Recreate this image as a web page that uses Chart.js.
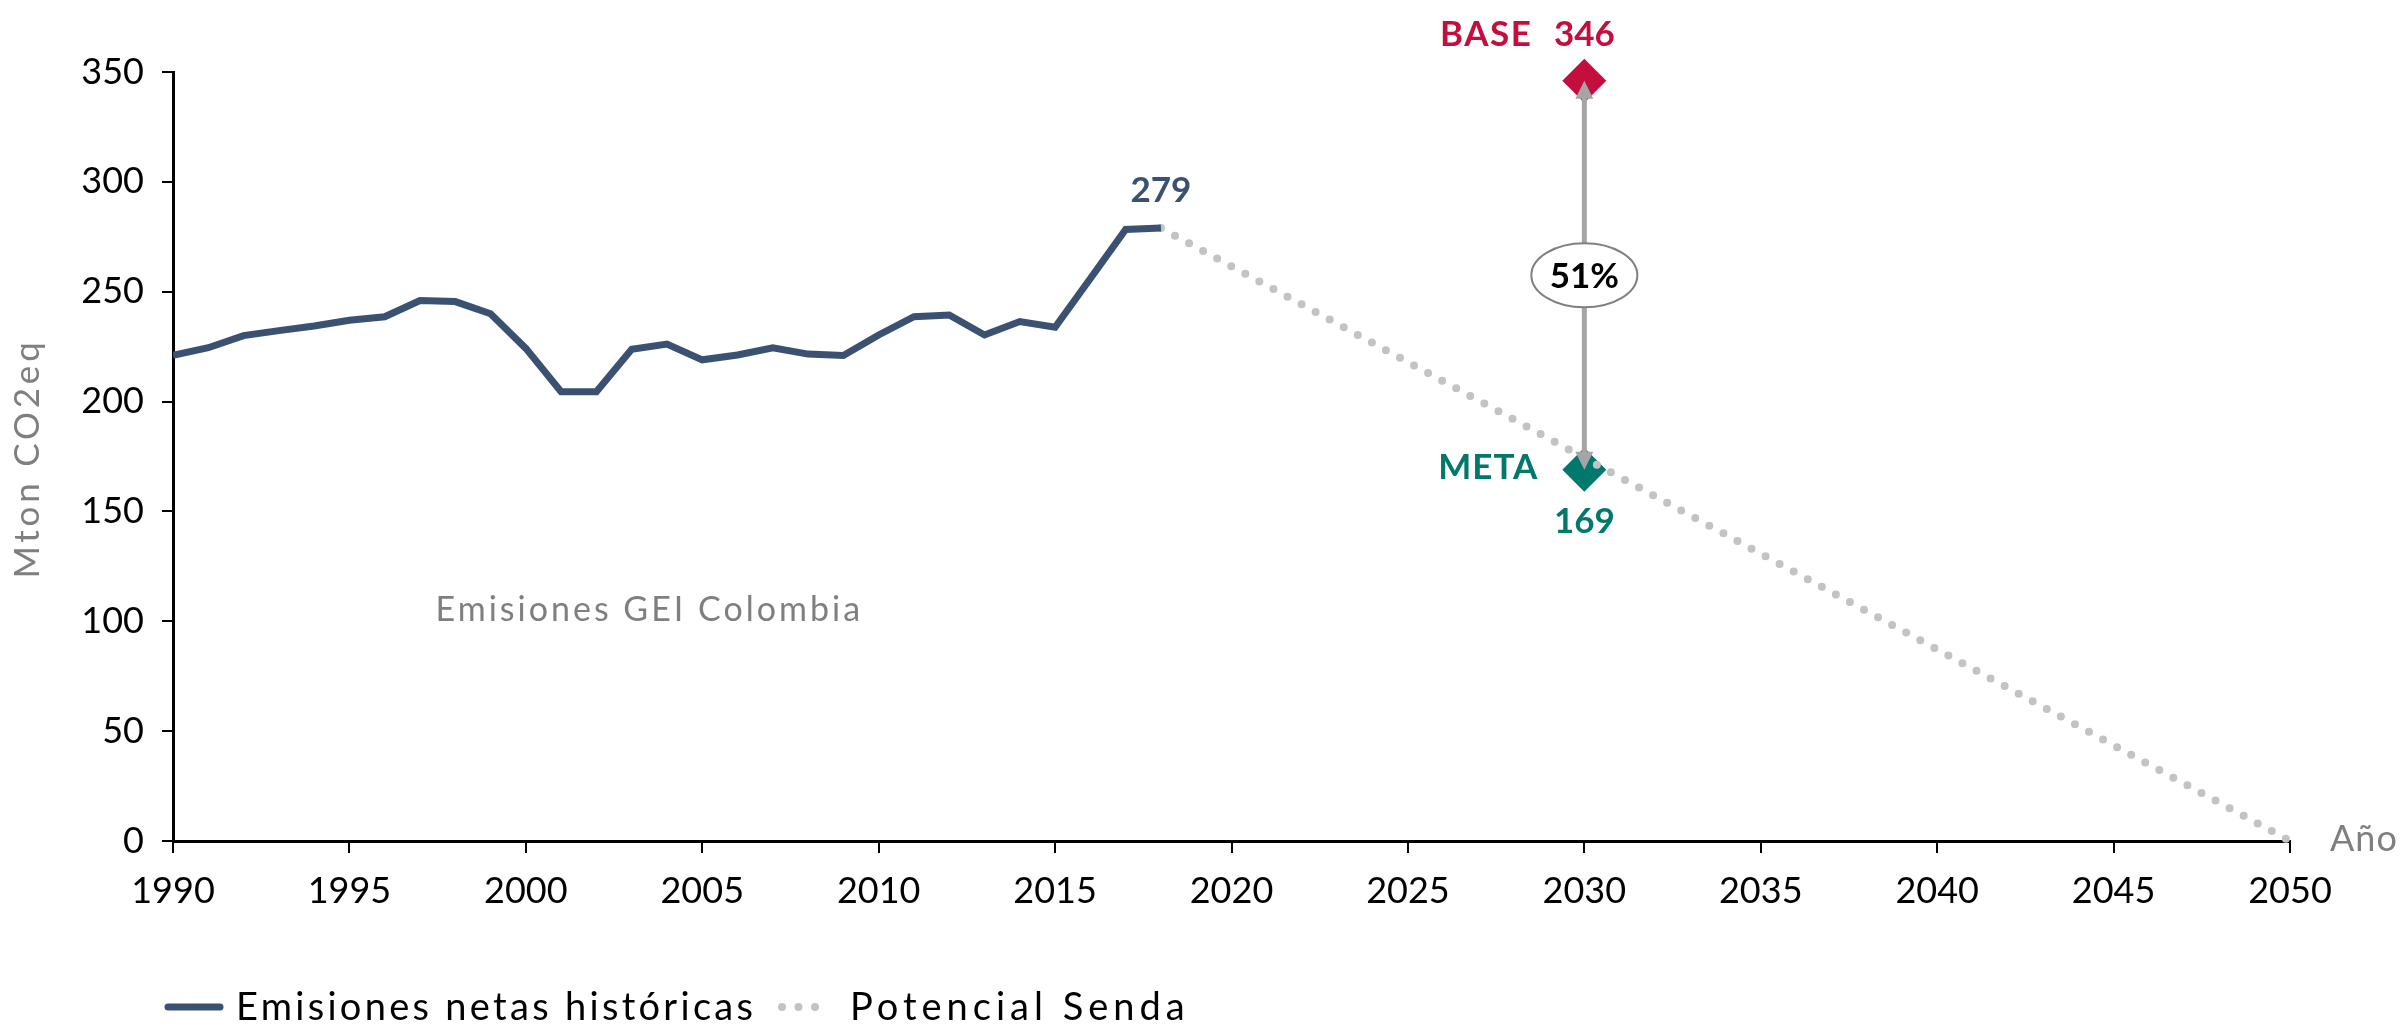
<!DOCTYPE html>
<html>
<head>
<meta charset="utf-8">
<script src="https://cdn.jsdelivr.net/npm/chart.js@4.4.0/dist/chart.umd.min.js"></script>
<style>
  html, body { margin: 0; padding: 0; background: #fff; }
</style>
</head>
<body>
<canvas id="linegraph" width="2407" height="1030"></canvas>
<script>
// historic net emissions (Mton CO2eq)
var years = [1990, 1991, 1992, 1993, 1994, 1995, 1996, 1997, 1998, 1999,
             2000, 2001, 2002, 2003, 2004, 2005, 2006, 2007, 2008, 2009,
             2010, 2011, 2012, 2013, 2014, 2015, 2016, 2017, 2018];
var emissions = [221, 224.5, 230, 232.3, 234.4, 237, 238.6, 246, 245.5, 240,
                 224.2, 204.5, 204.5, 223.8, 226.2, 219, 221.2, 224.5, 221.6, 221,
                 230.3, 238.6, 239.4, 230.3, 236.4, 233.8, 256, 278.3, 279];

// potential path to 2050
var pathYears = [2018, 2050];
var pathValues = [279, 0];

// 2030 target
var targetYear = 2030;
var baseValue = 346;
var metaValue = 169;
var reductionText = '51%';

var xTicks = [1990, 1995, 2000, 2005, 2010, 2015, 2020, 2025, 2030, 2035, 2040, 2045, 2050];
var yTicks = [0, 50, 100, 150, 200, 250, 300, 350];

var navy = '#3b5172';
var crimson = '#c40e3e';
var teal = '#00786c';
var dotGray = '#c3c3c3';
var textGray = '#7f7f7f';
var fontFamily = 'Lato, "Open Sans", sans-serif';

function pts(xs, ys) {
    return xs.map(function (x, i) { return { x: x, y: ys[i] }; });
}

// text with extra letter spacing (the original font is much wider than Lato)
function spaced(ctx, text, x, y, sp) {
    ctx.letterSpacing = sp + 'px';
    ctx.fillText(text, x, y);
    ctx.letterSpacing = '0px';
}

var extras = {
    id: 'extras',
    afterDatasetsDraw: function (chart) {
        var ctx = chart.ctx;
        var xs = chart.scales.x, ys = chart.scales.y;
        var px = xs.getPixelForValue(targetYear);
        var yTop = ys.getPixelForValue(baseValue);
        var yBot = ys.getPixelForValue(metaValue);
        var head = 18, hw = 9;

        ctx.save();
        // double arrow
        ctx.strokeStyle = '#a5a5a5';
        ctx.fillStyle = '#a5a5a5';
        ctx.lineWidth = 5;
        ctx.beginPath();
        ctx.moveTo(px, yTop + head - 2);
        ctx.lineTo(px, yBot - head + 2);
        ctx.stroke();
        ctx.beginPath();
        ctx.moveTo(px, yTop);
        ctx.lineTo(px - hw, yTop + head);
        ctx.lineTo(px + hw, yTop + head);
        ctx.closePath();
        ctx.fill();
        ctx.beginPath();
        ctx.moveTo(px, yBot);
        ctx.lineTo(px - hw, yBot - head);
        ctx.lineTo(px + hw, yBot - head);
        ctx.closePath();
        ctx.fill();

        // ellipse with percentage
        var cy = (yTop + yBot) / 2;
        ctx.beginPath();
        ctx.ellipse(px, cy, 53, 32, 0, 0, Math.PI * 2);
        ctx.fillStyle = '#fff';
        ctx.fill();
        ctx.lineWidth = 2;
        ctx.strokeStyle = '#808080';
        ctx.stroke();
        ctx.fillStyle = '#000';
        ctx.font = 'bold 35px ' + fontFamily;
        ctx.textAlign = 'center';
        ctx.textBaseline = 'middle';
        ctx.fillText(reductionText, px, cy + 1);

        // value labels
        ctx.font = 'bold 35px ' + fontFamily;
        ctx.fillStyle = crimson;
        ctx.fillText(String(baseValue), px, yTop - 46);
        ctx.textAlign = 'right';
        spaced(ctx, 'BASE', px - 52, yTop - 46, 1.5);

        ctx.fillStyle = teal;
        ctx.textAlign = 'center';
        ctx.fillText(String(metaValue), px, yBot + 52);
        ctx.textAlign = 'right';
        spaced(ctx, 'META', px - 46, yBot - 2, 1);

        var lastX = years[years.length - 1], lastY = emissions[emissions.length - 1];
        ctx.fillStyle = navy;
        ctx.textAlign = 'center';
        ctx.fillText('279', xs.getPixelForValue(lastX), ys.getPixelForValue(lastY) - 37);

        // chart inner texts
        ctx.font = '34px ' + fontFamily;
        ctx.fillStyle = textGray;
        ctx.textAlign = 'center';
        spaced(ctx, 'Emisiones GEI Colombia', xs.getPixelForValue(2003.5), ys.getPixelForValue(105), 3);
        ctx.textAlign = 'left';
        ctx.font = '36px ' + fontFamily;
        spaced(ctx, 'Año', chart.chartArea.right + 40, ys.getPixelForValue(0) - 2, 1);

        // y axis title
        ctx.translate(28, ys.getPixelForValue(175) + 2);
        ctx.rotate(-Math.PI / 2);
        ctx.textAlign = 'center';
        ctx.font = '35px ' + fontFamily;
        spaced(ctx, 'Mton CO2eq', 0, 0, 3.8);
        ctx.restore();

        // legend
        ctx.save();
        var ly = 1007;
        ctx.lineCap = 'round';
        ctx.strokeStyle = navy;
        ctx.lineWidth = 7;
        ctx.beginPath();
        ctx.moveTo(168, ly);
        ctx.lineTo(220, ly);
        ctx.stroke();
        ctx.font = '38px ' + fontFamily;
        ctx.fillStyle = '#000';
        ctx.textAlign = 'left';
        ctx.textBaseline = 'middle';
        spaced(ctx, 'Emisiones netas históricas', 236, ly + 1, 3.3);
        ctx.strokeStyle = dotGray;
        ctx.lineWidth = 8;
        ctx.setLineDash([0, 16.5]);
        ctx.beginPath();
        ctx.moveTo(782, ly);
        ctx.lineTo(816, ly);
        ctx.stroke();
        spaced(ctx, 'Potencial Senda', 850, ly + 1, 5);
        ctx.restore();
    }
};

var ctx = document.getElementById('linegraph').getContext('2d');
var emissionsChart = new Chart(ctx, {
    type: 'line',
    data: {
        datasets: [{
            label: 'Emisiones netas históricas',
            data: pts(years, emissions),
            borderColor: navy,
            borderWidth: 7,
            pointRadius: 0,
            fill: false
        }, {
            label: 'Potencial Senda',
            data: pts(pathYears, pathValues),
            borderColor: dotGray,
            borderWidth: 8,
            borderDash: [0, 16],
            borderCapStyle: 'round',
            pointRadius: 0,
            fill: false,
            clip: false
        }, {
            label: 'BASE',
            data: [{ x: targetYear, y: baseValue }],
            showLine: false,
            pointStyle: 'rectRot',
            pointRadius: 22,
            pointBackgroundColor: crimson,
            pointBorderWidth: 0,
            clip: false
        }, {
            label: 'META',
            data: [{ x: targetYear, y: metaValue }],
            showLine: false,
            pointStyle: 'rectRot',
            pointRadius: 22,
            pointBackgroundColor: teal,
            pointBorderWidth: 0,
            clip: false
        }]
    },
    options: {
        responsive: false,
        animation: false,
        events: [],
        devicePixelRatio: 1,
        layout: { padding: { top: 72, right: 117, left: 0, bottom: 0 } },
        plugins: {
            legend: { display: false },
            tooltip: { enabled: false }
        },
        scales: {
            x: {
                type: 'linear',
                min: 1990,
                max: 2050,
                afterBuildTicks: function (s) { s.ticks = xTicks.map(function (v) { return { value: v }; }); },
                afterFit: function (s) { s.height = 189; },
                ticks: {
                    autoSkip: false,
                    maxRotation: 0,
                    padding: 17,
                    color: '#000',
                    font: { family: fontFamily, size: 36 },
                    callback: function (v) { return String(v); }
                },
                grid: { drawOnChartArea: false, tickLength: 12, color: '#000', lineWidth: 2 },
                border: { color: '#000', width: 3 }
            },
            y: {
                min: 0,
                max: 350,
                afterBuildTicks: function (s) { s.ticks = yTicks.map(function (v) { return { value: v }; }); },
                afterFit: function (s) { s.width = 173; },
                ticks: {
                    padding: 18,
                    color: '#000',
                    font: { family: fontFamily, size: 36 }
                },
                grid: { drawOnChartArea: false, tickLength: 11, color: '#000', lineWidth: 2 },
                border: { color: '#000', width: 3 }
            }
        }
    },
    plugins: [extras]
});
</script>
</body>
</html>
